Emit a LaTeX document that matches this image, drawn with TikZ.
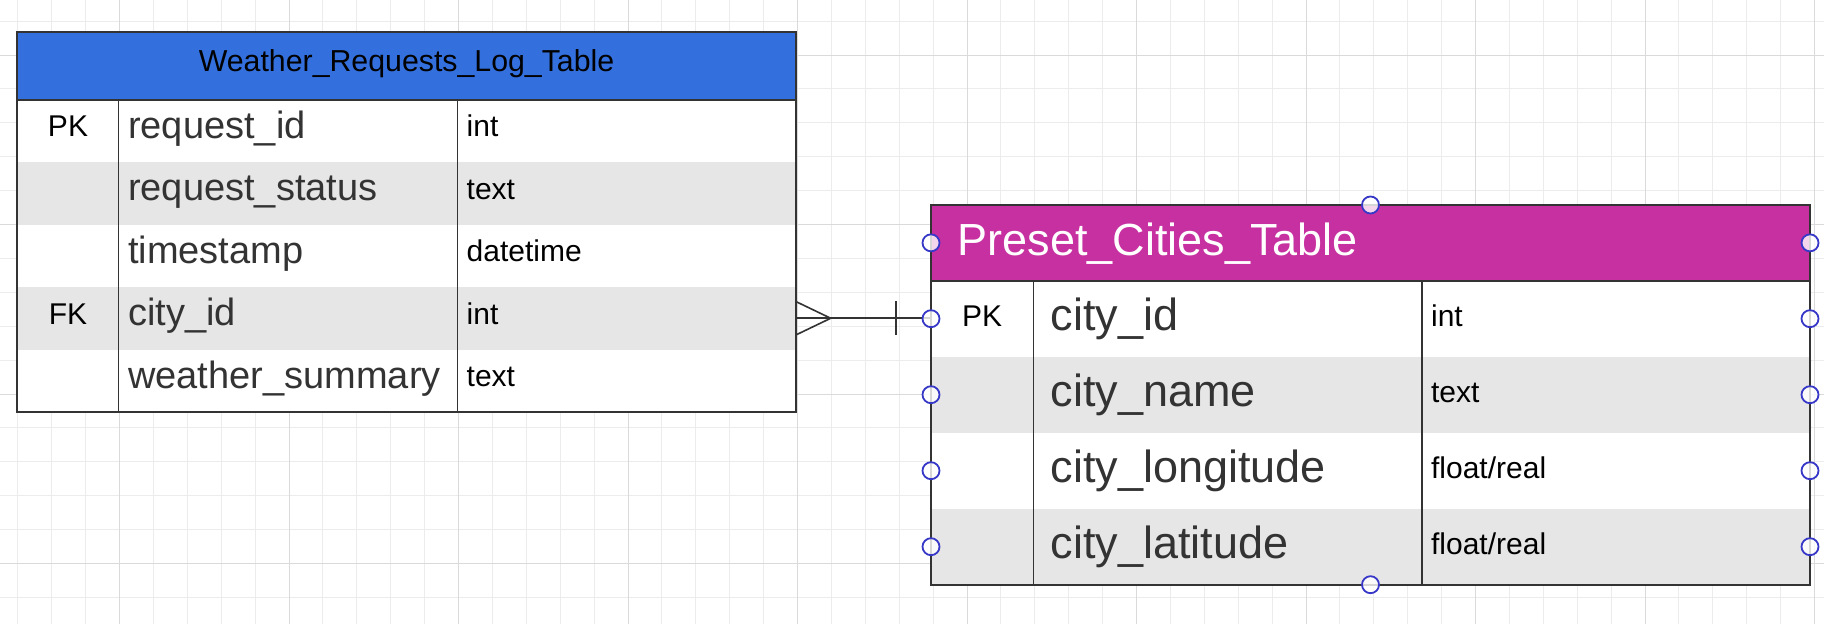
\documentclass[tikz,border=0pt]{standalone}
\usepackage{fontspec}
\setmainfont{Liberation Sans}
\usetikzlibrary{arrows.meta, positioning}

\definecolor{wblue}{RGB}{51,112,221}
\definecolor{pmagenta}{RGB}{199,48,160}
\definecolor{rowgray}{RGB}{230,230,230}
\definecolor{linegray}{RGB}{51,51,51}
\definecolor{fieldgray}{RGB}{51,51,51}
\definecolor{handleblue}{RGB}{56,56,200}
\definecolor{gridminor}{RGB}{236,236,236}
\definecolor{gridmajor}{RGB}{218,218,218}

\tikzset{
  cell/.style={rectangle, inner sep=0pt, outer sep=0pt},
  wrow/.style={cell, minimum width=778.3pt, minimum height=62.5pt},
  prow/.style={cell, minimum width=879pt, minimum height=76pt},
  wname/.style={inner sep=0pt, anchor=base west, text=fieldgray, font=\fontsize{38}{40}\selectfont},
  pname/.style={inner sep=0pt, anchor=base west, text=fieldgray, font=\fontsize{45}{47}\selectfont},
  ftype/.style={inner sep=0pt, anchor=base west, font=\fontsize{30}{32}\selectfont},
  fkey/.style={inner sep=0pt, anchor=base, font=\fontsize{30}{32}\selectfont},
  ttitle/.style={inner sep=0pt, font=\fontsize{30.3}{32}\selectfont},
  border/.style={draw=linegray, line width=2pt},
  divider/.style={draw=linegray, line width=1.2pt},
  conn/.style={draw=linegray, line width=1.6pt},
  handle/.style={circle, draw=handleblue, line width=1.8pt, fill=white, fill opacity=0.8,
    text opacity=1, minimum size=17pt, inner sep=0pt}
}

\begin{document}
\begin{tikzpicture}[x=1pt, y=-1pt]

  % background grid
  \useasboundingbox (0,0) rectangle (1824,624);
  \fill[white] (0,0) rectangle (1824,624);
  \foreach \gx in {17.8,51.7,...,1824} \draw[gridminor, line width=1pt] (\gx,0) -- (\gx,624);
  \foreach \gy in {21.1,55,...,624} \draw[gridminor, line width=1pt] (0,\gy) -- (1824,\gy);
  \foreach \gx in {119.5,289,...,1824} \draw[gridmajor, line width=1pt] (\gx,0) -- (\gx,624);
  \foreach \gy in {55,224.5,...,624} \draw[gridmajor, line width=1pt] (0,\gy) -- (1824,\gy);

  % Weather_Requests_Log_Table
  \node[cell, fill=wblue, minimum width=778.3pt, minimum height=67.8pt] (wh) at (406.55,65.6) {};
  \node[wrow, fill=white,   below=0pt of wh]  (wr1) {};
  \node[wrow, fill=rowgray, below=0pt of wr1] (wr2) {};
  \node[wrow, fill=white,   below=0pt of wr2] (wr3) {};
  \node[wrow, fill=rowgray, below=0pt of wr3] (wr4) {};
  \node[wrow, fill=white,   below=0pt of wr4] (wr5) {};

  \node[ttitle, anchor=base] (wtitle) at (406.55,71.7) {Weather\_Requests\_Log\_Table};

  \node[fkey]  (wk1) at (68,136.9) {PK};
  \node[fkey]  (wk4) at (68,324.4) {FK};

  \node[wname] (wn1) at (128,138.3) {request\_id};
  \node[wname] (wn2) at (128,200.8) {request\_status};
  \node[wname] (wn3) at (128,263.3) {timestamp};
  \node[wname] (wn4) at (128,325.8) {city\_id};
  \node[wname] (wn5) at (128,388.3) {weather\_summary};

  \node[ftype] (wt1) at (466.5,136.9) {int};
  \node[ftype] (wt2) at (466.5,199.4) {text};
  \node[ftype] (wt3) at (466.5,261.9) {datetime};
  \node[ftype] (wt4) at (466.5,324.4) {int};
  \node[ftype] (wt5) at (466.5,386.9) {text};

  \draw[divider] (118.7,99.5) -- (118.7,412);
  \draw[divider] (457.2,99.5) -- (457.2,412);
  \draw[border] (wh.south west) -- (wh.south east);
  \draw[border] (wh.north west) rectangle (wr5.south east);

  % Preset_Cities_Table
  \node[cell, fill=pmagenta, minimum width=879pt, minimum height=75.7pt] (ph) at (1370.5,242.85) {};
  \node[prow, fill=white,   below=0pt of ph]  (pr1) {};
  \node[prow, fill=rowgray, below=0pt of pr1] (pr2) {};
  \node[prow, fill=white,   below=0pt of pr2] (pr3) {};
  \node[prow, fill=rowgray, below=0pt of pr3] (pr4) {};

  \node[pname, text=white] (ptitle) at (957.4,255) {Preset\_Cities\_Table};

  \node[fkey]  (pk1) at (982,326) {PK};

  \node[pname] (pn1) at (1050.5,330.7) {city\_id};
  \node[pname] (pn2) at (1050.5,406.7) {city\_name};
  \node[pname] (pn3) at (1050.5,482.7) {city\_longitude};
  \node[pname] (pn4) at (1050.5,558.7) {city\_latitude};

  \node[ftype] (pt1) at (1430.9,326) {int};
  \node[ftype] (pt2) at (1430.9,402) {text};
  \node[ftype] (pt3) at (1430.9,478) {float/real};
  \node[ftype] (pt4) at (1430.9,554) {float/real};

  \draw[divider] (1033.3,280.7) -- (1033.3,584.7);
  \draw[divider] (1422,280.7) -- (1422,584.7);
  \draw[border] (ph.south west) -- (ph.south east);
  \draw[border] (ph.north west) rectangle (pr4.south east);

  % relation: many requests to one city
  \draw[conn] (wr4.east) -- (wr4.east -| pr1.west);
  \draw[conn] ([yshift=16.8pt]wr4.east) -- ([xshift=35pt]wr4.east) -- ([yshift=-16.8pt]wr4.east);
  \draw[conn] ([xshift=-35pt, yshift=16.8pt]wr4.east -| pr1.west) -- ([xshift=-35pt, yshift=-16.8pt]wr4.east -| pr1.west);

  % selection handles
  \node[handle] (htop) at (ph.north) {};
  \node[handle] (hbot) at (pr4.south) {};
  \foreach \n in {ph,pr1,pr2,pr3,pr4} {
    \node[handle] (\n-l) at (\n.west) {};
    \node[handle] (\n-r) at (\n.east) {};
  }

\end{tikzpicture}
\end{document}
